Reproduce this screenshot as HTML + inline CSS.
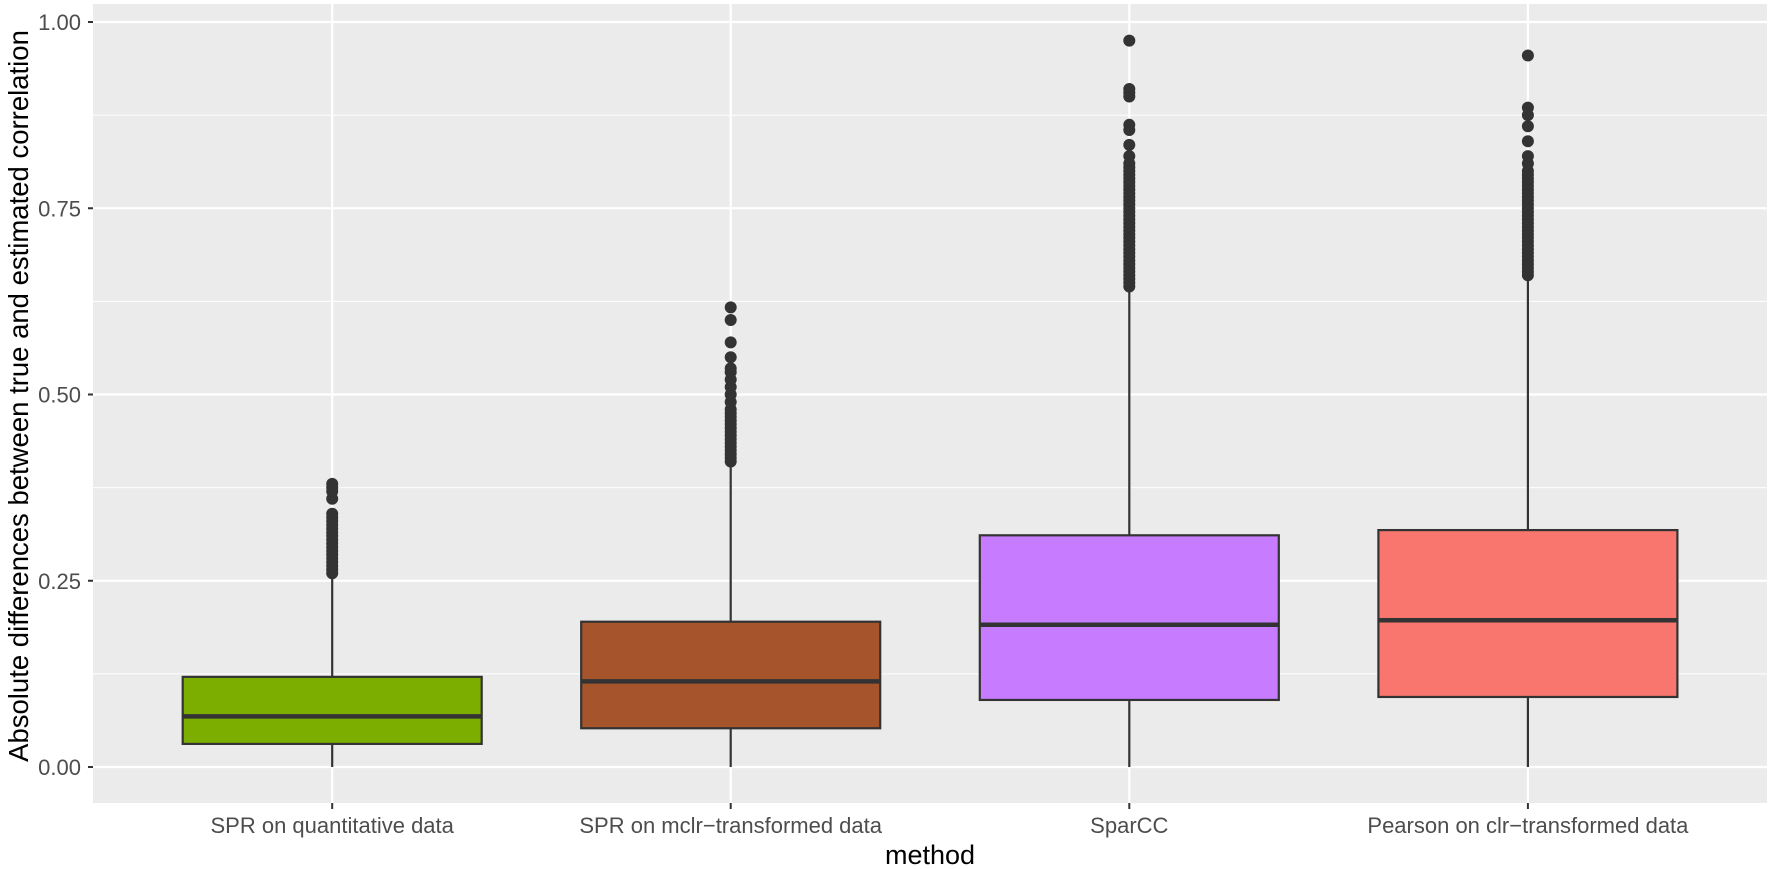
<!DOCTYPE html>
<html><head><meta charset="utf-8"><style>
html,body{margin:0;padding:0;background:#fff;}
svg{display:block;font-family:"Liberation Sans",Arial,sans-serif;}
</style></head><body>
<svg id="s" width="1772" height="869" xmlns="http://www.w3.org/2000/svg"></svg>
<script>
const s=document.getElementById('s');
const L=93,R=1767,T=4,B=803;
const Y=v=>767-v*745;
let h='';
h+=`<rect x="${L}" y="${T}" width="${R-L}" height="${B-T}" fill="#ebebeb"/>`;
[0.125,0.375,0.625,0.875].forEach(v=>{h+=`<line x1="${L}" x2="${R}" y1="${Y(v)}" y2="${Y(v)}" stroke="#fff" stroke-width="1.1"/>`;});
[0,0.25,0.5,0.75,1].forEach(v=>{h+=`<line x1="${L}" x2="${R}" y1="${Y(v)}" y2="${Y(v)}" stroke="#fff" stroke-width="2.2"/>`;
 h+=`<line x1="${L-5}" x2="${L}" y1="${Y(v)}" y2="${Y(v)}" stroke="#333" stroke-width="2"/>`;
 h+=`<text x="${L-12}" y="${Y(v)+8}" text-anchor="end" font-size="22" fill="#4d4d4d">${v.toFixed(2)}</text>`;});
const cs=[332.2,730.7,1129.3,1527.9];
const names=["SPR on quantitative data","SPR on mclr\u2212transformed data","SparCC","Pearson on clr\u2212transformed data"];
cs.forEach((c,i)=>{h+=`<line x1="${c}" x2="${c}" y1="${T}" y2="${B}" stroke="#fff" stroke-width="2.2"/>`;
 h+=`<line x1="${c}" x2="${c}" y1="${B}" y2="${B+6}" stroke="#333" stroke-width="2"/>`;
 h+=`<text x="${c}" y="${833}" text-anchor="middle" font-size="22" fill="#4d4d4d">${names[i]}</text>`;});
function rng(a,b,st){let r=[];for(let v=a;v<=b+1e-9;v+=st)r.push(v);return r;}
const boxes=[
 {q1:0.031,med:0.068,q3:0.121,wh:0.255,col:"#7cae00",out:rng(0.26,0.34,0.005).concat([0.36,0.37,0.375,0.38])},
 {q1:0.052,med:0.115,q3:0.195,wh:0.405,col:"#a6542b",out:rng(0.41,0.48,0.005).concat([0.49,0.5,0.51,0.52,0.53,0.535,0.55,0.57,0.6,0.617])},
 {q1:0.09,med:0.191,q3:0.311,wh:0.645,col:"#c77cff",out:rng(0.645,0.81,0.005).concat([0.82,0.835,0.855,0.862,0.9,0.905,0.91,0.975])},
 {q1:0.094,med:0.197,q3:0.318,wh:0.655,col:"#f8766d",out:rng(0.66,0.80,0.005).concat([0.81,0.82,0.84,0.86,0.875,0.885,0.955])}
];
const hw=149.5;
boxes.forEach((b,i)=>{const c=cs[i];
 h+=`<line x1="${c}" x2="${c}" y1="${Y(b.wh)}" y2="${Y(b.q3)}" stroke="#333" stroke-width="2.2"/>`;
 h+=`<line x1="${c}" x2="${c}" y1="${Y(b.q1)}" y2="${Y(0)}" stroke="#333" stroke-width="2.2"/>`;
 h+=`<rect x="${c-hw}" y="${Y(b.q3)}" width="${2*hw}" height="${Y(b.q1)-Y(b.q3)}" fill="${b.col}" stroke="#333" stroke-width="2.2"/>`;
 h+=`<line x1="${c-hw}" x2="${c+hw}" y1="${Y(b.med)}" y2="${Y(b.med)}" stroke="#333" stroke-width="4.5"/>`;
 b.out.forEach(v=>{h+=`<circle cx="${c}" cy="${Y(v)}" r="6" fill="#333"/>`;});
});
h+=`<text x="930" y="864" text-anchor="middle" font-size="27" fill="#000">method</text>`;
h+=`<text transform="translate(28,396) rotate(-90)" text-anchor="middle" font-size="27.5" fill="#000">Absolute differences between true and estimated correlation</text>`;
s.innerHTML=h;
</script>
</body></html>
